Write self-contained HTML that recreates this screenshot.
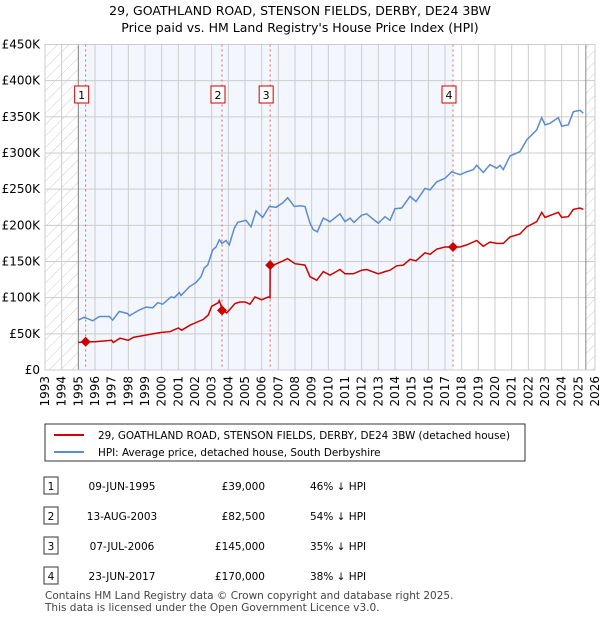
<!DOCTYPE html>
<html><head><meta charset="utf-8"><style>
body{margin:0;background:#fff;font-family:"Liberation Sans","DejaVu Sans",sans-serif;}
svg text{font-family:"DejaVu Sans","Liberation Sans",sans-serif;}
</style></head><body>
<svg id="c" width="600" height="620" xmlns="http://www.w3.org/2000/svg">
<defs><pattern id="hatch" patternUnits="userSpaceOnUse" width="8" height="8" patternTransform="rotate(45)"><line x1="0" y1="0" x2="0" y2="8" stroke="#ccc" stroke-width="1"/></pattern></defs>
<text x="300" y="15" text-anchor="middle" font-size="12.5">29, GOATHLAND ROAD, STENSON FIELDS, DERBY, DE24 3BW</text>
<text x="300" y="32" text-anchor="middle" font-size="12.5">Price paid vs. HM Land Registry's House Price Index (HPI)</text>
<g id="plot"></g>
<g>
<rect x="45" y="424" width="480" height="37" fill="#fff" stroke="#333" stroke-width="1"/>
<line x1="54" y1="435" x2="84" y2="435" stroke="#cc0000" stroke-width="2"/>
<text x="98" y="439" font-size="10.4">29, GOATHLAND ROAD, STENSON FIELDS, DERBY, DE24 3BW (detached house)</text>
<line x1="54" y1="452" x2="84" y2="452" stroke="#5b8bd0" stroke-width="2"/>
<text x="98" y="456" font-size="10.4">HPI: Average price, detached house, South Derbyshire</text>
</g>
<g id="table" font-size="10.5"></g>
<text x="45" y="599" font-size="10.5" fill="#444">Contains HM Land Registry data © Crown copyright and database right 2025.</text>
<text x="45" y="611" font-size="10.5" fill="#444">This data is licensed under the Open Government Licence v3.0.</text>
</svg>
<script>
const yTicks=[0,50000,100000,150000,200000,250000,300000,350000,400000,450000];
const yTickLabels=["£0","£50K","£100K","£150K","£200K","£250K","£300K","£350K","£400K","£450K"];
const xYears=[1993,1994,1995,1996,1997,1998,1999,2000,2001,2002,2003,2004,2005,2006,2007,2008,2009,2010,2011,2012,2013,2014,2015,2016,2017,2018,2019,2020,2021,2022,2023,2024,2025,2026];
const saleLabels=["1","2","3","4"];
const saleYears=[1995.44,2003.62,2006.51,2017.48];
const salePrices=[39000,82500,145000,170000];
const saleDates=["09-JUN-1995","13-AUG-2003","07-JUL-2006","23-JUN-2017"];
const salePriceText=["£39,000","£82,500","£145,000","£170,000"];
const saleHpiText=["46% ↓ HPI","54% ↓ HPI","35% ↓ HPI","38% ↓ HPI"];
const hpiYears=[1995.0,1995.36,1995.86,1996.26,1996.86,1997.06,1997.46,1997.96,1998.06,1998.36,1998.66,1999.06,1999.46,1999.76,2000.06,2000.56,2000.76,2001.06,2001.16,2001.66,2002.06,2002.36,2002.56,2002.76,2003.06,2003.26,2003.46,2003.62,2003.86,2004.06,2004.36,2004.56,2005.06,2005.26,2005.36,2005.66,2006.06,2006.46,2006.86,2007.26,2007.56,2007.96,2008.3,2008.6,2008.9,2009.1,2009.34,2009.7,2010.1,2010.7,2011.0,2011.3,2011.54,2012.0,2012.3,2012.6,2013.0,2013.4,2013.7,2014.0,2014.4,2014.9,2015.26,2015.8,2016.1,2016.5,2017.0,2017.4,2017.9,2018.3,2018.7,2018.9,2019.3,2019.7,2020.1,2020.3,2020.5,2020.9,2021.5,2021.9,2022.5,2022.8,2023.0,2023.3,2023.8,2024.0,2024.4,2024.7,2025.1,2025.3];
const hpiValues=[69,73,68,74,74,69,81,78,75,79,83,87,86,93,91,101,100,107,103,115,121,129,141,145,166,170,180,175,179,173,196,204,207,201,198,220,211,226,225,231,238,226,227,226,203,194,191,210,205,216,205,210,204,214,216,210,203,212,207,223,224,240,233,251,249,260,265,274,270,274,277,283,273,284,279,283,277,296,302,318,332,349,339,341,349,337,339,357,359,355];
const priceYears=[1995.0,1995.44,1996.0,1997.0,1997.1,1997.5,1998.0,1998.3,1999.0,1999.5,2000.0,2000.5,2001.0,2001.2,2001.7,2002.0,2002.5,2002.8,2003.0,2003.4,2003.45,2003.55,2003.62,2003.9,2004.1,2004.4,2004.7,2005.0,2005.3,2005.6,2006.0,2006.4,2006.5,2006.51,2006.7,2007.0,2007.3,2007.55,2008.0,2008.6,2008.9,2009.3,2009.7,2010.1,2010.7,2011.0,2011.5,2012.0,2012.3,2013.0,2013.4,2013.7,2014.1,2014.5,2014.9,2015.26,2015.8,2016.1,2016.5,2017.0,2017.48,2017.9,2018.3,2018.9,2019.3,2019.7,2020.1,2020.5,2020.9,2021.5,2021.9,2022.5,2022.8,2023.0,2023.8,2024.0,2024.4,2024.7,2025.1,2025.3];
const priceValues=[38,39,39,41,38,44,41,45,48,50,52,53,58,55,62,65,70,76,88,93,96,90,83,79,84,92,94,94,91,101,97,101,100,145,145,148,151,154,147,145,129,124,136,131,139,133,133,138,139,133,136,138,144,145,153,151,162,160,167,170,170,170,173,179,171,177,175,175,184,188,198,205,218,211,218,211,212,222,224,222];

const NS="http://www.w3.org/2000/svg";
const X0=45,X1=595,Y0=370,Y1=44.5;
const xs=y=>X0+(y-1993)/(2026-1993)*(X1-X0);
const ys=v=>Y0-v/450000*(Y0-Y1);
const plot=document.getElementById('plot');
function mk(tag,attrs,parent){const e=document.createElementNS(NS,tag);for(const k in attrs)e.setAttribute(k,attrs[k]);(parent||plot).appendChild(e);return e;}
let e;
e=mk('rect',{x:xs(1995),y:Y1,width:xs(2017.48)-xs(1995),height:Y0-Y1,fill:'#f3f6fd'});


e=mk('rect',{x:X0,y:Y1,width:xs(1995)-X0,height:Y0-Y1,fill:'url(#hatch)'});


e=mk('rect',{x:xs(2025.45),y:Y1,width:X1-xs(2025.45),height:Y0-Y1,fill:'url(#hatch)'});


xYears.forEach(y=>{
 e=mk('line',{x1:xs(y),x2:xs(y),y1:Y1,y2:Y0,stroke:'#cccccc','stroke-width':1});
 
 
 e=mk('text',{x:0,y:0,transform:`translate(${xs(y)+4},376) rotate(-90)`,'text-anchor':'end','font-size':12});
 e.textContent=y;
 
 
});
yTicks.forEach((v,i)=>{
 e=mk('line',{x1:X0,x2:X1,y1:ys(v),y2:ys(v),stroke:'#cccccc','stroke-width':1});
 
 
 e=mk('text',{x:40,y:ys(v)+4,'text-anchor':'end','font-size':12});
 e.textContent=yTickLabels[i];
 
 
});
e=mk('line',{x1:xs(1995),x2:xs(1995),y1:Y1,y2:Y0,stroke:'#888','stroke-width':1});


e=mk('line',{x1:xs(2025.45),x2:xs(2025.45),y1:Y1,y2:Y0,stroke:'#888','stroke-width':1});


saleYears.forEach((y,i)=>{
 e=mk('line',{x1:xs(y),x2:xs(y),y1:Y1,y2:Y0,stroke:'#e06060','stroke-width':1,'stroke-dasharray':'2,3'});
 
 
});
const pt=(a,b)=>a.map((y,i)=>xs(y).toFixed(1)+','+ys(b[i]*1000).toFixed(1)).join(' ');
e=mk('polyline',{points:pt(hpiYears,hpiValues),fill:'none',stroke:'#5b8bd0','stroke-width':1.5});


e=mk('polyline',{points:pt(priceYears,priceValues),fill:'none',stroke:'#cc0000','stroke-width':1.5});


saleYears.forEach((y,i)=>{
 const cx=xs(y),cy=ys(salePrices[i]);
 e=mk('polygon',{points:`${cx},${cy-5} ${cx+5},${cy} ${cx},${cy+5} ${cx-5},${cy}`,fill:'#cc0000'});
 
 
 e=mk('rect',{x:cx-11,y:86,width:14,height:17,fill:'#fff',stroke:'#cc0000','stroke-width':1});
 
 
 e=mk('text',{x:cx-4,y:99,'text-anchor':'middle','font-size':11});
 e.textContent=saleLabels[i];
 
 
});
e=mk('rect',{x:X0,y:Y1,width:X1-X0,height:Y0-Y1,fill:'none',stroke:'#cccccc'});


const tbl=document.getElementById('table');
saleLabels.forEach((l,i)=>{
 const y=489+i*30;
 e=mk('rect',{x:44,y:y-12,width:14,height:17,fill:'#fff',stroke:'#333'},tbl);
 
 
 e=mk('text',{x:51,y:y+1,'text-anchor':'middle'},tbl);e.textContent=l;
 
 
 e=mk('text',{x:122,y:y+1,'text-anchor':'middle'},tbl);e.textContent=saleDates[i];
 
 
 e=mk('text',{x:265,y:y+1,'text-anchor':'end'},tbl);e.textContent=salePriceText[i];
 
 
 e=mk('text',{x:310,y:y+1},tbl);e.textContent=saleHpiText[i];
 
 
});
</script>
</body></html>
